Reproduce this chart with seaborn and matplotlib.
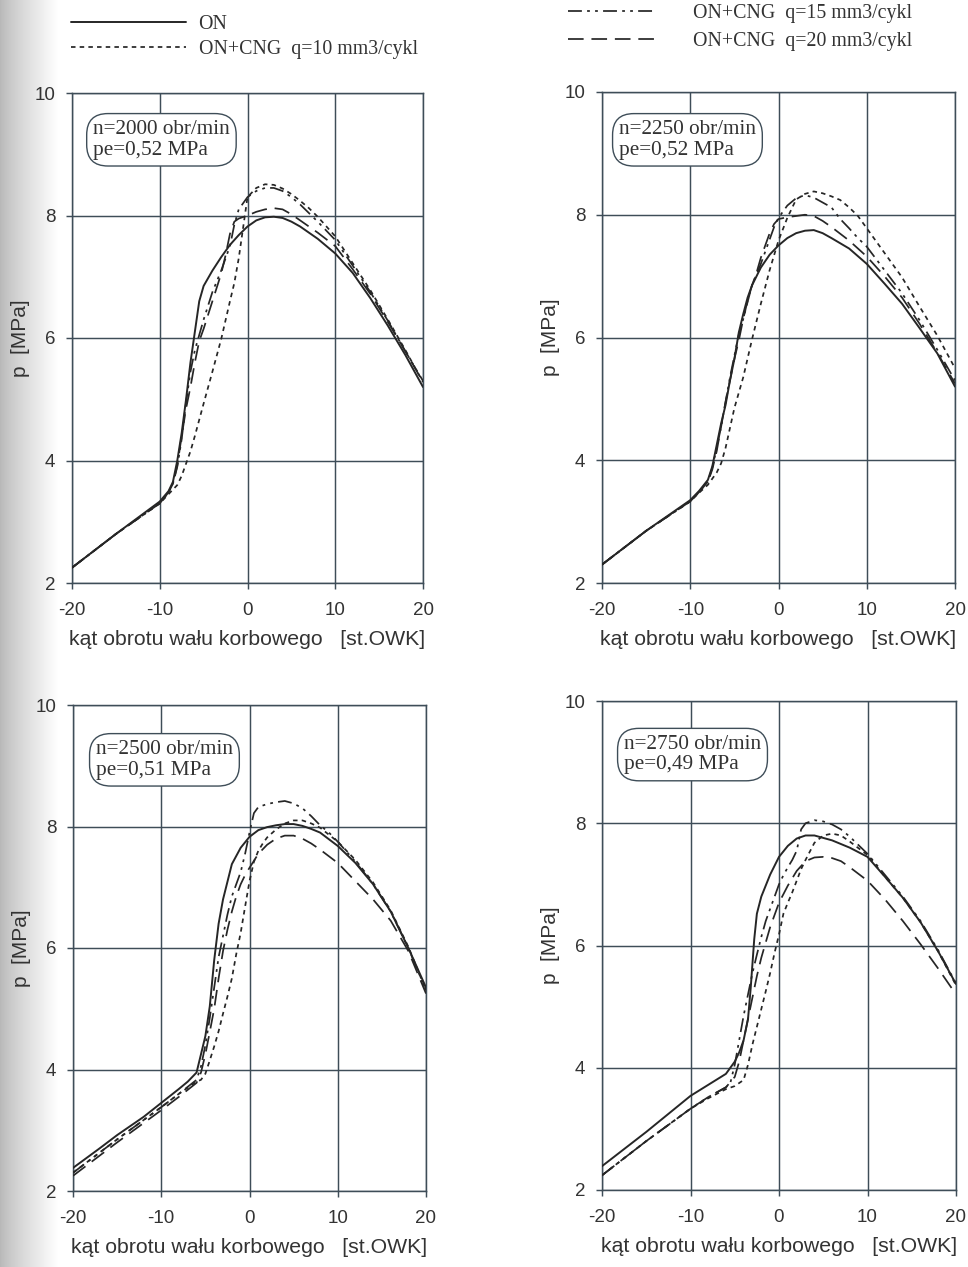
import numpy as np
import matplotlib
matplotlib.use("Agg")
import matplotlib.pyplot as plt
import seaborn as sns
from matplotlib.lines import Line2D

# ---------------- data ----------------
# n = 2000 obr/min, pe = 0,52 MPa
x_2000_on = [-20, -15, -10, -9, -8.5, -8, -7.5, -7, -6.5, -6, -5.5, -5, -4, -3, -2, -1, 0, 1, 2, 3, 4, 5, 6, 8, 10, 12, 14, 16, 18, 20]
p_2000_on = [2.25, 2.8, 3.33, 3.5, 3.65, 4.0, 4.45, 5.0, 5.6, 6.1, 6.6, 6.85, 7.1, 7.32, 7.52, 7.68, 7.82, 7.92, 7.97, 7.98, 7.96, 7.9, 7.82, 7.62, 7.38, 7.06, 6.65, 6.2, 5.72, 5.2]
x_2000_q10 = [-20, -15, -10, -9, -8, -7.5, -7, -6.5, -6, -5, -4, -3, -2, -1.5, -1, -0.5, 0, 1, 2, 3, 4, 5, 6, 7, 8, 10, 12, 14, 16, 18, 20]
p_2000_q10 = [2.25, 2.8, 3.3, 3.45, 3.6, 3.75, 3.95, 4.15, 4.4, 4.93, 5.45, 5.98, 6.6, 6.9, 7.3, 7.8, 8.3, 8.45, 8.51, 8.5, 8.44, 8.35, 8.24, 8.12, 7.98, 7.66, 7.22, 6.78, 6.3, 5.8, 5.28]
x_2000_q15 = [-20, -15, -10, -9, -8.5, -8, -7.5, -7, -6.5, -6, -5.5, -5, -4, -3, -2, -1.5, -1, 0, 1, 2, 3, 4, 5, 6, 8, 10, 12, 14, 16, 18, 20]
p_2000_q15 = [2.25, 2.8, 3.3, 3.48, 3.62, 3.9, 4.35, 4.95, 5.45, 5.8, 6.05, 6.3, 6.75, 7.1, 7.5, 7.85, 8.1, 8.3, 8.4, 8.45, 8.45, 8.4, 8.3, 8.18, 7.9, 7.6, 7.18, 6.75, 6.28, 5.78, 5.3]
x_2000_q20 = [-20, -15, -10, -9, -8.5, -8, -7.5, -7, -6.5, -6, -5.5, -5, -4, -3, -2.5, -2, -1.5, -1, 0, 1, 2, 3, 4, 5, 6, 8, 10, 12, 14, 16, 18, 20]
p_2000_q20 = [2.25, 2.8, 3.3, 3.48, 3.62, 3.92, 4.4, 4.85, 5.2, 5.6, 5.95, 6.15, 6.6, 7.05, 7.35, 7.7, 7.9, 7.95, 8.0, 8.06, 8.1, 8.12, 8.1, 8.02, 7.92, 7.72, 7.5, 7.12, 6.72, 6.26, 5.78, 5.28]

# n = 2250 obr/min, pe = 0,52 MPa
x_2250_on = [-20, -15, -10, -9, -8, -7.5, -7, -6.5, -6, -5.5, -5, -4.5, -4, -3.5, -3, -2, -1, 0, 1, 2, 3, 4, 5, 6, 8, 10, 12, 14, 16, 18, 20]
p_2250_on = [2.3, 2.85, 3.35, 3.5, 3.68, 3.9, 4.25, 4.6, 4.9, 5.3, 5.65, 6.08, 6.38, 6.65, 6.85, 7.14, 7.35, 7.5, 7.62, 7.7, 7.74, 7.75, 7.7, 7.62, 7.45, 7.2, 6.88, 6.55, 6.15, 5.74, 5.2]
x_2250_q10 = [-20, -15, -10, -9, -8, -7, -6.5, -6, -5, -4, -3, -2, -1, 0, 1, 2, 3, 4, 5, 6, 7, 8, 9, 10, 12, 14, 16, 18, 20]
p_2250_q10 = [2.3, 2.85, 3.33, 3.47, 3.6, 3.8, 3.95, 4.2, 4.85, 5.35, 5.97, 6.55, 7.1, 7.58, 7.95, 8.25, 8.34, 8.38, 8.35, 8.3, 8.24, 8.12, 7.98, 7.78, 7.38, 6.98, 6.5, 6.03, 5.5]
x_2250_q15 = [-20, -15, -10, -9, -8, -7.5, -7, -6.5, -6, -5.5, -5, -4.5, -4, -3.5, -3, -2, -1.5, -1, -0.5, 0, 1, 2, 3, 4, 5, 6, 7, 8, 9, 10, 12, 14, 16, 18, 20]
p_2250_q15 = [2.3, 2.85, 3.33, 3.48, 3.65, 3.88, 4.2, 4.55, 4.95, 5.35, 5.7, 6.05, 6.3, 6.58, 6.85, 7.2, 7.4, 7.6, 7.8, 7.95, 8.15, 8.27, 8.32, 8.28, 8.2, 8.12, 7.93, 7.78, 7.62, 7.48, 7.1, 6.72, 6.28, 5.8, 5.3]
x_2250_q20 = [-20, -15, -10, -9, -8, -7.5, -7, -6.5, -6, -5.5, -5, -4.5, -4, -3.5, -3, -2.5, -2, -1.5, -1, -0.5, 0, 1, 2, 3, 4, 5, 6, 8, 10, 12, 14, 16, 18, 20]
p_2250_q20 = [2.3, 2.85, 3.33, 3.48, 3.65, 3.85, 4.15, 4.55, 4.95, 5.3, 5.65, 5.95, 6.3, 6.6, 6.85, 7.05, 7.3, 7.5, 7.7, 7.85, 7.93, 7.96, 7.98, 8.0, 7.98, 7.9, 7.8, 7.58, 7.32, 7.0, 6.65, 6.22, 5.75, 5.25]

# n = 2500 obr/min, pe = 0,51 MPa
x_2500_on = [-20, -17, -15, -12, -10, -8, -7, -6, -5.5, -5, -4.5, -4, -3.5, -3, -2, -1, 0, 1, 2, 3, 4, 5, 6, 7, 8, 10, 12, 14, 16, 18, 20]
p_2500_on = [2.38, 2.7, 2.92, 3.22, 3.45, 3.68, 3.8, 3.95, 4.25, 4.55, 5.04, 5.8, 6.4, 6.8, 7.38, 7.65, 7.83, 7.94, 7.99, 8.02, 8.04, 8.04, 8.01, 7.96, 7.9, 7.68, 7.4, 7.05, 6.6, 6.0, 5.35]
x_2500_q10 = [-20, -15, -10, -8, -6, -5.5, -5, -4.5, -4, -3.5, -3, -2.5, -2, -1.5, -1, -0.5, 0, 0.5, 1, 1.5, 2, 3, 4, 5, 6, 7, 8, 10, 12, 14, 16, 18, 20]
p_2500_q10 = [2.3, 2.85, 3.38, 3.6, 3.8, 3.83, 3.93, 4.15, 4.38, 4.63, 4.92, 5.2, 5.5, 5.9, 6.25, 6.68, 7.1, 7.42, 7.6, 7.72, 7.82, 7.95, 8.05, 8.1, 8.1, 8.05, 7.98, 7.75, 7.45, 7.08, 6.62, 6.02, 5.3]
x_2500_q15 = [-20, -15, -10, -8, -6, -5.5, -5, -4.5, -4, -3.5, -3, -2.5, -2, -1.5, -1, -0.5, 0, 0.5, 1, 2, 3, 4, 5, 6, 7, 8, 9, 10, 12, 14, 16, 18, 20]
p_2500_q15 = [2.3, 2.85, 3.38, 3.6, 3.83, 4.05, 4.4, 4.85, 5.35, 5.85, 6.2, 6.55, 6.85, 7.05, 7.25, 7.55, 7.9, 8.22, 8.32, 8.37, 8.4, 8.42, 8.38, 8.3, 8.17, 8.02, 7.9, 7.75, 7.42, 7.05, 6.6, 6.0, 5.3]
x_2500_q20 = [-20, -15, -10, -8, -6, -5.5, -5, -4.5, -4, -3.5, -3, -2.5, -2, -1.5, -1, -0.5, 0, 1, 2, 3, 4, 5, 6, 7, 8, 10, 12, 14, 16, 18, 20]
p_2500_q20 = [2.25, 2.8, 3.33, 3.55, 3.78, 3.95, 4.25, 4.62, 5.0, 5.5, 5.95, 6.3, 6.6, 6.85, 7.05, 7.2, 7.32, 7.55, 7.7, 7.8, 7.85, 7.85, 7.8, 7.72, 7.62, 7.4, 7.1, 6.8, 6.45, 5.95, 5.25]

# n = 2750 obr/min, pe = 0,49 MPa
x_2750_on = [-20, -15, -10, -8, -6, -5.5, -5, -4.5, -4, -3.5, -3.2, -3, -2.8, -2.5, -2, -1.5, -1, 0, 1, 2, 3, 4, 5, 6, 8, 10, 12, 14, 16, 18, 20]
p_2750_on = [2.39, 2.95, 3.54, 3.72, 3.9, 4.0, 4.1, 4.25, 4.45, 4.8, 5.3, 5.7, 6.1, 6.52, 6.8, 6.98, 7.16, 7.45, 7.63, 7.75, 7.8, 7.8, 7.76, 7.72, 7.6, 7.45, 7.12, 6.78, 6.38, 5.9, 5.37]
x_2750_q10 = [-20, -15, -10, -8, -6, -5, -4.5, -4, -3.5, -3, -2.5, -2, -1.5, -1, -0.5, 0, 0.5, 1, 1.5, 2, 2.5, 3, 4, 5, 6, 7, 8, 10, 12, 14, 16, 18, 20]
p_2750_q10 = [2.24, 2.8, 3.33, 3.5, 3.65, 3.7, 3.75, 3.8, 4.05, 4.38, 4.67, 4.96, 5.25, 5.55, 5.88, 6.18, 6.52, 6.7, 6.87, 7.06, 7.25, 7.4, 7.68, 7.8, 7.83, 7.8, 7.7, 7.48, 7.12, 6.78, 6.38, 5.9, 5.35]
x_2750_q15 = [-20, -15, -10, -8, -6, -5.5, -5, -4.5, -4, -3.5, -3, -2.5, -2, -1.5, -1, -0.5, 0, 0.5, 1, 1.5, 2, 2.5, 3, 4, 5, 6, 7, 8, 10, 12, 14, 16, 18, 20]
p_2750_q15 = [2.24, 2.8, 3.33, 3.52, 3.68, 3.75, 4.05, 4.45, 4.85, 5.2, 5.55, 5.85, 6.14, 6.4, 6.6, 6.8, 7.0, 7.15, 7.28, 7.4, 7.55, 7.9, 8.0, 8.05, 8.03, 7.98, 7.9, 7.78, 7.5, 7.15, 6.8, 6.4, 5.92, 5.38]
x_2750_q20 = [-20, -15, -10, -8, -6, -5, -4.5, -4, -3.5, -3, -2.5, -2, -1.5, -1, -0.5, 0, 1, 2, 3, 4, 5, 6, 7, 8, 10, 12, 14, 16, 18, 20]
p_2750_q20 = [2.24, 2.8, 3.33, 3.52, 3.68, 3.85, 4.1, 4.45, 4.8, 5.15, 5.5, 5.8, 6.05, 6.3, 6.5, 6.7, 6.98, 7.22, 7.38, 7.44, 7.45, 7.43, 7.38, 7.28, 7.06, 6.75, 6.4, 6.02, 5.62, 5.2]

series_labels = ["ON", "ON+CNG  q=10 mm3/cykl", "ON+CNG  q=15 mm3/cykl", "ON+CNG  q=20 mm3/cykl"]
panel_notes = ["n=2000 obr/min\npe=0,52 MPa", "n=2250 obr/min\npe=0,52 MPa",
               "n=2500 obr/min\npe=0,51 MPa", "n=2750 obr/min\npe=0,49 MPa"]
x_ticks = [-20, -10, 0, 10, 20]
y_ticks = [2, 4, 6, 8, 10]
x_label = "kąt obrotu wału korbowego   [st.OWK]"
y_label = "p  [MPa]"

# ---------------- style ----------------
sns.set_style("white")
plt.rcParams["font.family"] = ["Liberation Sans", "DejaVu Sans"]
plt.rcParams["axes.unicode_minus"] = False
SERIF = ["Liberation Serif", "DejaVu Serif"]

LINE = "#262626"
GRID = "#3e4d58"
TEXT = "#333333"
styles = [
    dict(linestyle="-", lw=1.4),
    dict(linestyle=(0, (2.6, 2.4)), lw=1.25),
    dict(linestyle=(0, (8, 3, 1.6, 3, 1.6, 3)), lw=1.25),
    dict(linestyle=(0, (9, 4.5)), lw=1.25),
]

W, H = 968, 1267
fig = plt.figure(figsize=(W / 100, H / 100), dpi=100)

# scanned-page shading on the left edge
bg = fig.add_axes([0, 0, 1, 1], zorder=-10)
bg.set_xlim(0, W)
bg.set_ylim(H, 0)
bg.axis("off")
shade = np.linspace(0.0, 1.0, 60) ** 0.8
bg.imshow((0.72 + 0.28 * shade)[None, :], extent=(0, 60, H, 0), cmap="gray",
          vmin=0, vmax=1, aspect="auto", interpolation="bilinear")

def rect(l, r, t, b):
    return [l / W, (H - b) / H, (r - l) / W, (b - t) / H]

panels = [
    dict(rect=rect(72, 423, 93, 583), note_xy=(0.060, 0.945),
         data=[(x_2000_on, p_2000_on), (x_2000_q10, p_2000_q10), (x_2000_q15, p_2000_q15), (x_2000_q20, p_2000_q20)]),
    dict(rect=rect(602, 955, 92, 583), note_xy=(0.048, 0.943),
         data=[(x_2250_on, p_2250_on), (x_2250_q10, p_2250_q10), (x_2250_q15, p_2250_q15), (x_2250_q20, p_2250_q20)]),
    dict(rect=rect(73, 426, 705, 1191), note_xy=(0.065, 0.928),
         data=[(x_2500_on, p_2500_on), (x_2500_q10, p_2500_q10), (x_2500_q15, p_2500_q15), (x_2500_q20, p_2500_q20)]),
    dict(rect=rect(602, 956, 701, 1190), note_xy=(0.062, 0.931),
         data=[(x_2750_on, p_2750_on), (x_2750_q10, p_2750_q10), (x_2750_q15, p_2750_q15), (x_2750_q20, p_2750_q20)]),
]

for k, pan in enumerate(panels):
    ax = fig.add_axes(pan["rect"])
    ax.set_facecolor("white")
    for (xs, ps), st in zip(pan["data"], styles):
        sns.lineplot(x=xs, y=ps, ax=ax, color=LINE, estimator=None, sort=False,
                     legend=False, zorder=3, **st)
    ax.set_xlim(-20, 20)
    ax.set_ylim(2, 10)
    ax.set_xticks(x_ticks)
    ax.set_yticks(y_ticks)
    ax.grid(True, color=GRID, lw=1.05)
    for sp in ax.spines.values():
        sp.set_color(GRID)
        sp.set_linewidth(1.05)
    ax.tick_params(bottom=True, left=True, direction="out", length=4, width=1.05,
                   color=GRID, labelsize=13.5, labelcolor=TEXT)
    ax.tick_params(axis="x", pad=9.5)
    ax.tick_params(axis="y", pad=8)
    ax.set_xlabel(x_label, fontsize=15.3, color=TEXT, labelpad=8)
    ax.set_ylabel(y_label, fontsize=15, color=TEXT, labelpad=3)
    ax.text(pan["note_xy"][0], pan["note_xy"][1], panel_notes[k], transform=ax.transAxes,
            ha="left", va="top", family=SERIF, fontsize=15.3, color=TEXT, linespacing=1.12,
            zorder=5,
            bbox=dict(boxstyle="round,pad=0.3,rounding_size=1.0", fc="white", ec=GRID, lw=1.0))

handles = [Line2D([], [], color=LINE, **st) for st in styles]
fig.legend(handles=handles[:2], labels=series_labels[:2], loc="upper left",
           bbox_to_anchor=(71 / W, 1 - 15 / H), frameon=False,
           prop=dict(family=SERIF, size=14.3), handlelength=5.8, handletextpad=0.62,
           labelspacing=0.3, borderpad=0, borderaxespad=0, labelcolor=TEXT)
fig.legend(handles=handles[2:], labels=series_labels[2:], loc="upper left",
           bbox_to_anchor=(568 / W, 1 - 4 / H), frameon=False,
           prop=dict(family=SERIF, size=14.3), handlelength=4.4, handletextpad=1.9,
           labelspacing=0.45, borderpad=0, borderaxespad=0, labelcolor=TEXT)

fig.savefig("out.png", dpi=100)
